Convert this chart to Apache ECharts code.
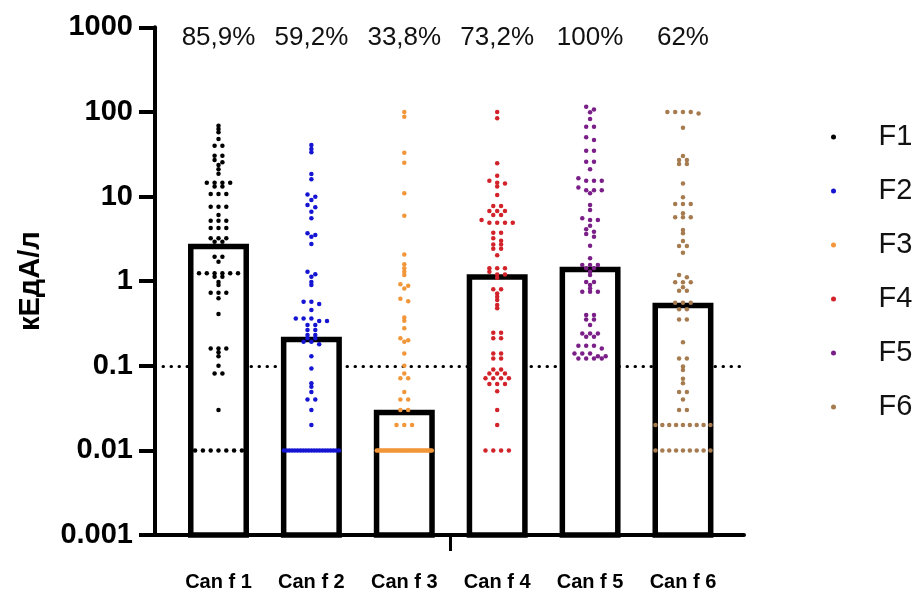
<!DOCTYPE html>
<html>
<head>
<meta charset="utf-8">
<script src="https://cdn.jsdelivr.net/npm/echarts@6/dist/echarts.min.js"></script>
<style>
  html, body { margin: 0; padding: 0; background: #ffffff; }
  #chart { width: 918px; height: 592px; }
</style>
</head>
<body>
<div id="chart"></div>
<script>
// Allergen components on the x axis, one swarm of sera per component
const categories = ['Can f 1', 'Can f 2', 'Can f 3', 'Can f 4', 'Can f 5', 'Can f 6'];
const seriesNames = ['F1', 'F2', 'F3', 'F4', 'F5', 'F6'];
// Height of each bar (kUA/l)
const barValues = [2.56, 0.204, 0.028, 1.12, 1.37, 0.515];
// Share of positive sera printed above each column
const percentLabels = ['85,9%', '59,2%', '33,8%', '73,2%', '100%', '62%'];
const yTickLabels = ['0.001', '0.01', '0.1', '1', '10', '100', '1000'];
const cutoff = 0.1;

// Individual measurements, kUA/l
const f1 = [68.7, 62.8, 57.4, 47.8, 39.9, 39.9, 30.4, 30.4, 27.0, 25.4, 23.6, 21.0, 18.6,
  14.6, 14.6, 14.6, 14.6, 13.1, 13.1, 10.7, 10.7, 10.7, 7.57, 7.57, 7.57, 6.04,
  5.18, 5.18, 5.18, 4.24, 4.24, 4.24, 3.21, 3.21, 3.21, 2.92, 2.92, 1.94, 1.94, 1.70,
  1.24, 1.24, 1.24, 1.24, 1.24, 1.24, 1.13, 1.13, 0.98, 0.90, 0.73, 0.73, 0.73, 0.63,
  0.41, 0.16, 0.16, 0.16, 0.144, 0.13, 0.1, 0.081, 0.081, 0.03,
  0.01, 0.01, 0.01, 0.01, 0.01, 0.01, 0.01];
const f2 = [40.6, 36.4, 33.3, 18.5, 16.0, 10.6, 9.95, 9.10, 7.93, 7.45, 6.61, 5.52, 3.67,
  3.51, 3.35, 2.75, 1.29, 1.21, 1.13, 0.98, 0.90, 0.571, 0.571, 0.536, 0.455,
  0.363, 0.363, 0.363, 0.338, 0.338, 0.303, 0.303, 0.264, 0.264, 0.231, 0.231,
  0.211, 0.211, 0.192, 0.192, 0.179, 0.130,
  0.093, 0.062, 0.0565, 0.049, 0.040, 0.040, 0.030, 0.020,
  0.01, 0.01, 0.01, 0.01, 0.01, 0.01, 0.01, 0.01, 0.01, 0.01, 0.01,
  0.01, 0.01, 0.01, 0.01, 0.01, 0.01, 0.01, 0.01, 0.01, 0.01];
const f3 = [100, 87.8, 32.9, 25.1, 10.9, 5.93, 2.07, 1.58, 1.42, 1.29, 1.18, 0.92, 0.88,
  0.82, 0.62, 0.58, 0.373, 0.340, 0.277, 0.211, 0.200, 0.192, 0.140, 0.1,
  0.081, 0.071, 0.071, 0.049, 0.040, 0.040, 0.030, 0.030, 0.020, 0.020, 0.020,
  0.01, 0.01, 0.01, 0.01, 0.01, 0.01, 0.01, 0.01, 0.01, 0.01, 0.01, 0.01,
  0.01, 0.01, 0.01, 0.01, 0.01, 0.01, 0.01, 0.01, 0.01, 0.01, 0.01, 0.01,
  0.01, 0.01, 0.01, 0.01, 0.01, 0.01, 0.01, 0.01, 0.01, 0.01, 0.01, 0.01];
const f4 = [100, 84.0, 24.7, 17.6, 15.4, 14.6, 14.3, 13.1, 10.4, 7.72, 7.72, 6.74, 6.74,
  6.74, 6.04, 6.04, 5.28, 4.90, 4.90, 4.90, 4.90, 3.73, 3.73, 3.21, 3.00, 2.72, 2.72,
  2.42, 2.42, 2.03, 1.42, 1.42, 1.42, 1.29, 1.20, 1.20, 1.10, 0.80, 0.80, 0.717,
  0.654, 0.60, 0.522, 0.477, 0.245, 0.245, 0.211, 0.211, 0.140, 0.140, 0.122, 0.122,
  0.0906, 0.0906, 0.081, 0.081, 0.081, 0.071, 0.071, 0.071, 0.071, 0.0608, 0.0608,
  0.0608, 0.050, 0.030, 0.020, 0.01, 0.01, 0.01, 0.01];
const f5 = [115, 107, 98.9, 82.4, 66.8, 66.8, 50.1, 46.5, 34.8, 34.8, 25.8, 25.8, 21.0,
  16.4, 15.4, 15.4, 15.4, 12.8, 11.9, 11.9, 11.9, 10.9, 7.93, 6.93, 5.52, 5.28, 5.28,
  4.52, 4.10, 3.84, 3.60, 3.35, 2.62, 1.86, 1.55, 1.55, 1.55, 1.42, 1.42, 1.29, 1.18,
  0.98, 0.98, 0.90, 0.82, 0.75, 0.75, 0.75, 0.397, 0.397, 0.353, 0.353, 0.303,
  0.241, 0.241, 0.241, 0.220, 0.220, 0.172, 0.172, 0.172, 0.160, 0.140, 0.140,
  0.140, 0.130, 0.130, 0.122, 0.122, 0.122, 0.122];
const f6 = [100, 100, 100, 100, 96, 65.0, 30.1, 27.0, 27.0, 24.2, 24.2, 14.3, 9.79,
  8.15, 8.15, 8.15, 6.33, 5.68, 5.68, 5.68, 4.02, 3.67, 2.98, 2.60, 2.60, 2.17, 1.18,
  1.11, 0.968, 0.968, 0.968, 0.845, 0.77, 0.77, 0.556, 0.556, 0.556, 0.464, 0.464,
  0.353, 0.353, 0.189, 0.122, 0.122,
  0.098, 0.089, 0.070, 0.062, 0.049, 0.049, 0.040, 0.030, 0.030,
  0.02, 0.02, 0.02, 0.02, 0.02, 0.02, 0.02, 0.02, 0.02,
  0.01, 0.01, 0.01, 0.01, 0.01, 0.01, 0.01, 0.01, 0.01];

const groups = [f1, f2, f3, f4, f5, f6];
const colors = ['#000000', '#1414d2', '#f2963a', '#d2222a', '#7a1e88', '#a67b4f'];

// Layout constants
const FONT = "'Liberation Sans', Arial, Helvetica, sans-serif";
const X_MIN = 0.3165, X_MAX = 6.657;
const Y_MIN = 0.001, Y_MAX = 1000;
const BAR_HALF = 0.2985;        // half bar width in category units
const DOT_STEP = 7.8;           // px between neighbouring dots in a row
const MAX_SPAN = 55;            // px, widest a row of dots may get
const ROW_H = 3;                // px, dots closer than this share a row

const chart = echarts.init(document.getElementById('chart'), null, { renderer: 'canvas' });

function yLabel(v) {
  for (const t of yTickLabels) {
    if (Math.abs(Math.log10(v) - Math.log10(parseFloat(t))) < 1e-6) return t;
  }
  return '';
}

const option = {
  animation: false,
  backgroundColor: '#ffffff',
  textStyle: { fontFamily: FONT },
  grid: { left: 155, right: 174, top: 27.3, bottom: 57, containLabel: false, outerBoundsMode: 'none' },
  legend: {
    data: seriesNames,
    orient: 'vertical',
    left: 831,
    top: 120,
    padding: 0,
    itemWidth: 10,
    itemHeight: 5,
    itemGap: 20,
    icon: 'circle',
    selectedMode: false,
    textStyle: { fontSize: 29, lineHeight: 34, color: '#111111', fontFamily: FONT, padding: [0, 0, 0, 35] }
  },
  xAxis: {
    type: 'value',
    min: X_MIN,
    max: X_MAX,
    axisLine: { show: true, onZero: false, lineStyle: { color: '#000', width: 4 } },
    axisTick: { show: true, customValues: [3.5], length: 16, lineStyle: { color: '#000', width: 3 } },
    axisLabel: {
      customValues: [1, 2, 3, 4, 5, 6],
      formatter: v => categories[Math.round(v) - 1],
      margin: 37,
      fontSize: 20,
      fontWeight: 'bold',
      color: '#000',
      fontFamily: FONT
    },
    splitLine: { show: false }
  },
  yAxis: {
    type: 'log',
    logBase: 10,
    min: Y_MIN,
    max: Y_MAX,
    splitNumber: 6,
    name: 'кЕдА/л',
    nameLocation: 'middle',
    nameGap: 110,
    nameTextStyle: { fontSize: 29, fontWeight: 'bold', color: '#000', fontFamily: FONT },
    axisLine: { show: true, onZero: false, lineStyle: { color: '#000', width: 4 } },
    axisTick: { show: true, length: 16, lineStyle: { color: '#000', width: 4 } },
    minorTick: { show: false },
    axisLabel: { fontSize: 29, fontWeight: 'bold', color: '#000', margin: 22, fontFamily: FONT, formatter: yLabel },
    splitLine: { show: false }
  },
  series: [
    {
      // dotted cut-off line at 0.1 kUA/l
      type: 'line',
      name: 'cutoff',
      data: [],
      z: 1,
      silent: true,
      markLine: {
        silent: true,
        symbol: 'none',
        label: { show: false },
        lineStyle: { color: '#000', width: 3, type: [0.5, 7.5], cap: 'round' },
        data: [{ yAxis: cutoff }]
      }
    },
    {
      type: 'custom',
      name: 'bars',
      z: 10,
      silent: true,
      data: barValues.map((v, i) => [i + 1, v]),
      renderItem(params, api) {
        const x = api.value(0), v = api.value(1);
        const tl = api.coord([x - BAR_HALF, v]);
        const br = api.coord([x + BAR_HALF, Y_MIN]);
        return {
          type: 'rect',
          shape: { x: tl[0], y: tl[1], width: br[0] - tl[0], height: br[1] - tl[1] },
          style: { fill: '#ffffff', stroke: '#000000', lineWidth: 5.5 }
        };
      }
    },
    {
      type: 'custom',
      name: 'percent',
      z: 14,
      silent: true,
      data: percentLabels.map((t, i) => [i + 1, Y_MAX]),
      renderItem(params, api) {
        const p = api.coord([api.value(0), api.value(1)]);
        return {
          type: 'text',
          x: p[0],
          y: p[1] + 11,
          style: {
            text: percentLabels[params.dataIndex],
            align: 'center',
            verticalAlign: 'middle',
            fontSize: 26,
            fontFamily: FONT,
            fill: '#111111'
          }
        };
      }
    }
  ].concat(seriesNames.map((name, i) => ({
    id: 'dots' + i,
    type: 'scatter',
    name: name,
    symbol: 'circle',
    symbolSize: 4.5,
    z: 12,
    silent: true,
    itemStyle: { color: colors[i], opacity: 1 },
    data: groups[i].map(v => [i + 1, v])
  })))
};

chart.setOption(option);

// Spread each column into rows of dots, centred on its category
const pxPerUnit = chart.convertToPixel({ gridIndex: 0 }, [2, 1])[0] -
                  chart.convertToPixel({ gridIndex: 0 }, [1, 1])[0];

function swarm(values, cat) {
  const pts = values.map(v => ({ v: v, y: chart.convertToPixel({ gridIndex: 0 }, [cat, v])[1] }));
  pts.sort((a, b) => a.y - b.y);
  const out = [];
  let row = [];
  const flush = () => {
    const n = row.length;
    const step = n > 1 ? Math.min(DOT_STEP, MAX_SPAN / (n - 1)) : 0;
    row.forEach((p, k) => {
      const off = (k - (n - 1) / 2) * step;
      out.push([cat + off / pxPerUnit, p.v]);
    });
    row = [];
  };
  pts.forEach(p => {
    if (row.length && p.y - row[0].y > ROW_H) flush();
    row.push(p);
  });
  flush();
  return out;
}

chart.setOption({
  series: seriesNames.map((name, i) => ({ id: 'dots' + i, data: swarm(groups[i], i + 1) }))
});
</script>
</body>
</html>
